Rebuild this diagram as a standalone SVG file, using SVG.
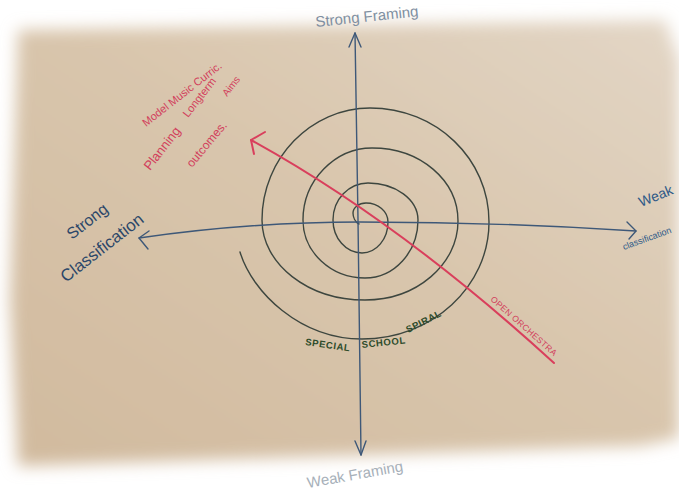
<svg xmlns="http://www.w3.org/2000/svg" width="679" height="494" viewBox="0 0 679 494">
<defs>
<linearGradient id="paperGrad" x1="1" y1="0" x2="0" y2="1">
<stop offset="0" stop-color="#e3d6c6"/>
<stop offset="0.45" stop-color="#d9c6ad"/>
<stop offset="1" stop-color="#d1ba9e"/>
</linearGradient>
<filter id="soft" x="-10%" y="-10%" width="120%" height="120%">
<feGaussianBlur stdDeviation="8"/>
</filter>
<style>
.axis{fill:none;stroke:#3e5878;stroke-width:1.4;stroke-linecap:round;stroke-linejoin:round}
.spiral{fill:none;stroke:#3d463f;stroke-width:1.4;stroke-linecap:round}
.red{fill:none;stroke:#d93f5c;stroke-width:2;stroke-linecap:round;stroke-linejoin:round}
.lbl{font-family:"Liberation Sans",Arial,sans-serif}
.blue{fill:#2c4769}
.pink{fill:#d2405c}
.green{fill:#2d4b2a;font-size:9.5px;letter-spacing:0.6px;font-weight:bold}
</style>
</defs>
<rect x="0" y="0" width="679" height="494" fill="#ffffff"/>
<polygon points="18,30 665,20 679,60 679,438 640,446 18,466 10,300" fill="url(#paperGrad)" filter="url(#soft)"/>

<path class="spiral" d="M359,224 C355,222 353,217 353,213 C353,207.5 358.8,203 366,203 C378.1,203 388,211.5 388,222 C388,239.1 376.4,253 362,253 C346,253 333,238.2 333,220 C333,199.6 348.7,183 368,183 C395.6,183 418,199.6 418,220 C418,252 394.3,278 365,278 C330.8,278 303,252 303,220 C303,180.3 335.3,148 372,148 C420.8,148 458,180.7 458,221 C458,264.6 416.3,300 365,300 C308.1,300 262,264.2 262,220 C262,158.2 311.3,108 370,108 C436.6,108 489,159 489,222 C489,286.6 432.1,339 362,339 C300,339 252,292 240,252"/>

<g id="connectors">
<path class="axis" d="M355,33 L358,220 L361,455"/>
<path class="axis" d="M349,47 L355,33 L361,47"/>
<path class="axis" d="M355,441 L361,455 L366,441"/>
<path class="axis" d="M139,238 Q250,222 360,222 Q500,222 636,231"/>
<path class="axis" d="M149,231 L139,238 L148,249"/>
<path class="axis" d="M627,222 L636,231 L629,239"/>
<path class="red" d="M251,140 Q400,222 554,363"/>
<path class="red" d="M265,132 L251,140 L254,154"/>
</g>

<g id="strong-framing"><text class="lbl" x="316" y="27" font-size="15" fill="#7f8fa1" transform="rotate(-6 316 27)">Strong Framing</text></g>
<g id="weak-framing"><text class="lbl" x="308" y="488" font-size="15" fill="#a7b0b9" transform="rotate(-10 308 488)">Weak Framing</text></g>
<g id="strong-classification">
<text class="lbl blue" x="72" y="240" font-size="16" transform="rotate(-38 72 240)">Strong</text>
<text class="lbl blue" x="66" y="283" font-size="17" transform="rotate(-38 66 283)">Classification</text>
</g>
<g id="weak-classification">
<text class="lbl" x="641" y="207" font-size="14" fill="#2e5a88" transform="rotate(-22 641 207)">Weak</text>
<text class="lbl" x="624" y="250" font-size="9" fill="#2e5a88" transform="rotate(-20 624 250)">classification</text>
</g>
<g id="notes">
<text class="lbl pink" x="146" y="127" font-size="11" transform="rotate(-38 146 127)">Model Music Curric.</text>
<text class="lbl pink" x="150" y="171" font-size="13" transform="rotate(-52 150 171)">Planning</text>
<text class="lbl pink" x="188" y="118" font-size="11" transform="rotate(-52 188 118)">Longterm</text>
<text class="lbl pink" x="227" y="97" font-size="10" transform="rotate(-52 227 97)">Aims</text>
<text class="lbl pink" x="192" y="168" font-size="12" transform="rotate(-50 192 168)">outcomes.</text>
</g>
<g id="open-orchestra"><text class="lbl pink" x="490" y="300" font-size="8.5" letter-spacing="0.4" transform="rotate(41.5 490 300)">OPEN ORCHESTRA</text></g>
<g id="special-school-spiral">
<text class="lbl green" x="305" y="345" transform="rotate(8 305 345)">SPECIAL</text>
<text class="lbl green" x="362" y="348" transform="rotate(-6 362 348)">SCHOOL</text>
<text class="lbl green" x="408" y="333" transform="rotate(-27 408 333)">SPIRAL</text>
</g>
</svg>
